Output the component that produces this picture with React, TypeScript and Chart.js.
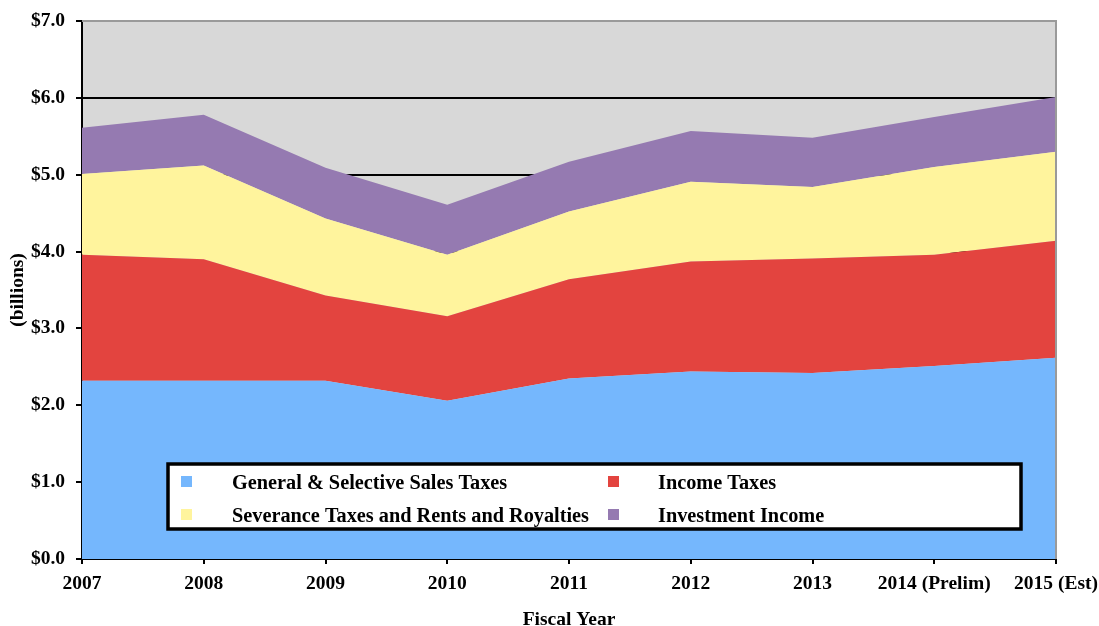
import React, { useEffect, useRef } from "react";
import { Chart, registerables } from "chart.js";

Chart.register(...registerables);

const years = ["2007", "2008", "2009", "2010", "2011", "2012", "2013", "2014 (Prelim)", "2015 (Est)"];
const salesTaxes = [2.32, 2.32, 2.32, 2.06, 2.35, 2.44, 2.42, 2.51, 2.62];
const incomeTaxes = [1.64, 1.58, 1.11, 1.10, 1.29, 1.43, 1.49, 1.45, 1.52];
const severanceTaxes = [1.05, 1.22, 1.00, 0.80, 0.88, 1.04, 0.93, 1.14, 1.16];
const investmentIncome = [0.60, 0.66, 0.66, 0.65, 0.65, 0.66, 0.64, 0.65, 0.71];

const seriesLabels = [
  "General & Selective Sales Taxes",
  "Income Taxes",
  "Severance Taxes and Rents and Royalties",
  "Investment Income",
];
const seriesColors = ["#75b7fd", "#e3443f", "#fff49d", "#957ab1"];

const FONT = "'Liberation Serif', 'Times New Roman', serif";

const bgPlugin = {
  id: "plotBg",
  beforeDraw(chart: any) {
    const { ctx, chartArea } = chart;
    ctx.save();
    ctx.fillStyle = "#d8d8d8";
    ctx.fillRect(chartArea.left, chartArea.top, chartArea.right - chartArea.left, chartArea.bottom - chartArea.top);
    ctx.restore();
  },
  afterDatasetsDraw(chart: any) {
    const { ctx, chartArea } = chart;
    ctx.save();
    ctx.strokeStyle = "#9a9a9a";
    ctx.lineWidth = 2;
    ctx.beginPath();
    ctx.moveTo(chartArea.left, chartArea.top);
    ctx.lineTo(chartArea.right, chartArea.top);
    ctx.lineTo(chartArea.right, chartArea.bottom);
    ctx.stroke();
    ctx.restore();
  },
};

const legendPlugin = {
  id: "boxLegend",
  afterDraw(chart: any) {
    const { ctx } = chart;
    const x0 = 168, y0 = 464, x1 = 1021, y1 = 529;
    ctx.save();
    ctx.fillStyle = "#ffffff";
    ctx.fillRect(x0, y0, x1 - x0, y1 - y0);
    ctx.strokeStyle = "#000000";
    ctx.lineWidth = 3.5;
    ctx.strokeRect(x0, y0, x1 - x0, y1 - y0);
    ctx.font = `bold 20.3px ${FONT}`;
    ctx.textBaseline = "middle";
    ctx.textAlign = "left";
    const ds = chart.data.datasets;
    const pos = [
      { mx: 181, tx: 232, y: 484 },
      { mx: 608, tx: 658, y: 484 },
      { mx: 181, tx: 232, y: 517 },
      { mx: 608, tx: 658, y: 517 },
    ];
    ds.forEach((d: any, i: number) => {
      const p = pos[i];
      ctx.fillStyle = d.backgroundColor;
      ctx.fillRect(p.mx, p.y - 8, 11, 11);
      ctx.fillStyle = "#000000";
      ctx.fillText(d.label, p.tx, p.y);
    });
    ctx.restore();
  },
};

export default function App() {
  const ref = useRef<HTMLCanvasElement | null>(null);
  useEffect(() => {
    document.body.style.margin = "0";
    const seriesData = [salesTaxes, incomeTaxes, severanceTaxes, investmentIncome];
    const chart = new Chart(ref.current as HTMLCanvasElement, {
      type: "line",
      data: {
        labels: years,
        datasets: seriesData.map((d, i) => ({
          label: seriesLabels[i],
          data: d,
          backgroundColor: seriesColors[i],
          borderColor: seriesColors[i],
          borderWidth: 0,
          pointRadius: 0,
          tension: 0,
          fill: i === 0 ? "origin" : "-1",
        })),
      },
      options: {
        animation: false,
        responsive: false,
        layout: { padding: { top: 21, right: 43, left: 0, bottom: 0 } },
        plugins: { legend: { display: false }, tooltip: { enabled: false } },
        scales: {
          x: {
            offset: false,
            grid: { drawOnChartArea: false, drawTicks: true, tickLength: 5, color: "#000", lineWidth: 2 },
            border: { color: "#000", width: 2 },
            ticks: { color: "#000", font: { family: FONT, size: 19.5, weight: "bold" }, padding: 8, maxRotation: 0, autoSkip: false },
            title: { display: true, text: "Fiscal Year", color: "#000", font: { family: FONT, size: 19.5, weight: "bold", lineHeight: 0.6 }, padding: { top: 0, bottom: 0 } },
            afterFit: (s: any) => { s.height = 67; s.paddingLeft = 0; s.paddingRight = 0; },
          },
          y: {
            stacked: true,
            min: 0,
            max: 7,
            grid: {
              color: (c: any) => (c.tick && c.tick.value === 7 ? "#9a9a9a" : "#000"),
              tickColor: "#000",
              lineWidth: 2,
              tickLength: 6,
            },
            border: { color: "#000", width: 2 },
            ticks: {
              stepSize: 1,
              color: "#000",
              padding: 11,
              font: { family: FONT, size: 19.5, weight: "bold" },
              callback: (v: any) => "$" + Number(v).toFixed(1),
            },
            title: { display: true, text: "(billions)", color: "#000", font: { family: FONT, size: 19.5, weight: "bold" }, padding: { top: 6, bottom: 0 } },
            afterFit: (s: any) => { s.width = 82; s.paddingTop = 0; s.paddingBottom = 0; },
          },
        },
      },
      plugins: [bgPlugin, legendPlugin],
    });
    return () => chart.destroy();
  }, []);
  return (
    <div style={{ width: 1099, height: 626 }}>
      <canvas ref={ref} width={1099} height={626} style={{ display: "block" }} />
    </div>
  );
}
